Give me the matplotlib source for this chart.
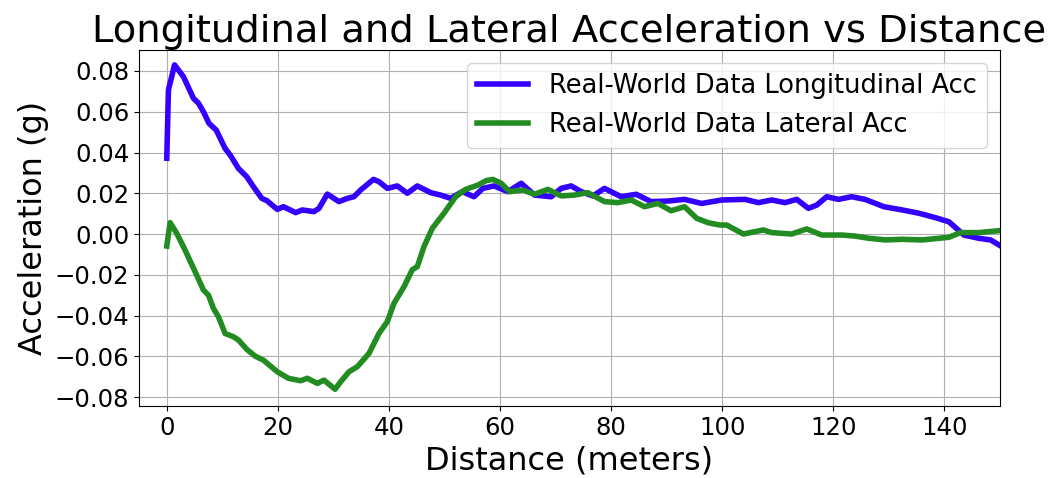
import numpy as np
import matplotlib
matplotlib.use("Agg")
import matplotlib.pyplot as plt

# values (distance in m, acceleration in g)
lon_dist = [0.0, 0.3, 1.4, 3.0, 4.8, 5.7, 6.6, 7.6, 8.9, 10.5, 11.4, 12.9, 14.4,
            15.6, 17.1, 18.0, 19.9, 21.0, 23.2, 24.4, 26.5, 27.4, 28.9, 31.0,
            32.5, 33.7, 34.9, 37.2, 38.2, 39.7, 41.5, 43.3, 45.1, 47.5, 49.3,
            51.1, 53.2, 55.3, 56.9, 58.9, 61.4, 63.8, 66.2, 69.2, 71.0, 72.8,
            74.6, 76.7, 78.8, 81.8, 84.5, 87.2, 90.3, 93.2, 96.3, 99.9, 104.1,
            106.5, 108.9, 111.3, 113.4, 115.5, 117.0, 118.8, 120.9, 123.3,
            125.7, 129.1, 132.4, 135.4, 138.4, 140.8, 143.5, 146.2, 148.3, 150.5]
lon_acc = [0.0372, 0.0707, 0.0830, 0.0772, 0.0666, 0.0642, 0.0600, 0.0543,
           0.0510, 0.0420, 0.0388, 0.0322, 0.0281, 0.0232, 0.0175, 0.0164,
           0.0121, 0.0134, 0.0105, 0.0118, 0.0110, 0.0126, 0.0196, 0.0159,
           0.0175, 0.0183, 0.0216, 0.0268, 0.0257, 0.0224, 0.0236, 0.0200,
           0.0236, 0.0203, 0.0191, 0.0175, 0.0208, 0.0183, 0.0224, 0.0236,
           0.0208, 0.0249, 0.0191, 0.0183, 0.0224, 0.0236, 0.0208, 0.0187,
           0.0224, 0.0183, 0.0195, 0.0159, 0.0162, 0.0170, 0.0150, 0.0167,
           0.0170, 0.0154, 0.0167, 0.0154, 0.0170, 0.0126, 0.0142, 0.0183,
           0.0170, 0.0183, 0.0170, 0.0134, 0.0118, 0.0102, 0.0080, 0.0060,
           -0.0005, -0.0021, -0.0029, -0.0065]

lat_dist = [0.0, 0.6, 1.8, 3.3, 5.1, 6.6, 7.5, 8.4, 9.3, 10.5, 12.0, 12.9, 14.4,
            15.9, 17.4, 19.9, 21.9, 24.1, 25.3, 27.1, 28.3, 30.3, 31.3, 32.8,
            34.3, 36.4, 38.2, 39.7, 40.9, 42.7, 44.2, 45.1, 46.3, 47.8, 49.9,
            52.0, 53.8, 56.0, 57.5, 58.7, 60.2, 61.7, 64.1, 66.2, 68.6, 71.0,
            73.4, 75.8, 78.8, 81.2, 83.6, 86.0, 88.4, 90.8, 93.2, 95.4, 97.5,
            99.6, 100.8, 103.8, 107.4, 108.9, 112.5, 115.2, 117.9, 121.5,
            123.9, 126.4, 129.4, 132.4, 136.0, 140.8, 142.9, 146.2, 150.5]
lat_acc = [-0.0059, 0.0056, 0.0003, -0.0079, -0.0185, -0.0275, -0.0300,
           -0.0365, -0.0406, -0.0488, -0.0504, -0.0520, -0.0566, -0.0599,
           -0.0619, -0.0676, -0.0708, -0.0720, -0.0708, -0.0733, -0.0717,
           -0.0762, -0.0725, -0.0676, -0.0651, -0.0586, -0.0488, -0.0430,
           -0.0340, -0.0259, -0.0175, -0.0160, -0.0062, 0.0028, 0.0102,
           0.0183, 0.0219, 0.0240, 0.0262, 0.0268, 0.0249, 0.0208, 0.0216,
           0.0195, 0.0219, 0.0187, 0.0191, 0.0203, 0.0159, 0.0154, 0.0167,
           0.0134, 0.0150, 0.0114, 0.0134, 0.0077, 0.0055, 0.0044, 0.0044,
           0.0000, 0.0020, 0.0007, 0.0000, 0.0025, -0.0005, -0.0005, -0.0010,
           -0.0021, -0.0029, -0.0026, -0.0029, -0.0016, 0.0007, 0.0007, 0.0018]

fig = plt.figure(figsize=(10.53, 4.78), dpi=100)
ax = fig.add_axes([0.132, 0.1506, 0.8177, 0.7448])

ax.plot(lon_dist, lon_acc, color="#3300ff", linewidth=4,
        label="Real-World Data Longitudinal Acc")
ax.plot(lat_dist, lat_acc, color="#228b22", linewidth=4,
        label="Real-World Data Lateral Acc")

ax.set_xlim(-5, 150)
ax.set_ylim(-0.0844, 0.0903)
ax.set_yticks(np.arange(-0.08, 0.081, 0.02))
ax.grid(True, color="#b0b0b0", linewidth=0.8)
ax.tick_params(labelsize=17.6)

ax.set_title("Longitudinal and Lateral Acceleration vs Distance", fontsize=27.7)
ax.set_xlabel("Distance (meters)", fontsize=23)
ax.set_ylabel("Acceleration (g)", fontsize=23)
ax.legend(fontsize=18.5, loc="upper right")

fig.savefig("out.png")
